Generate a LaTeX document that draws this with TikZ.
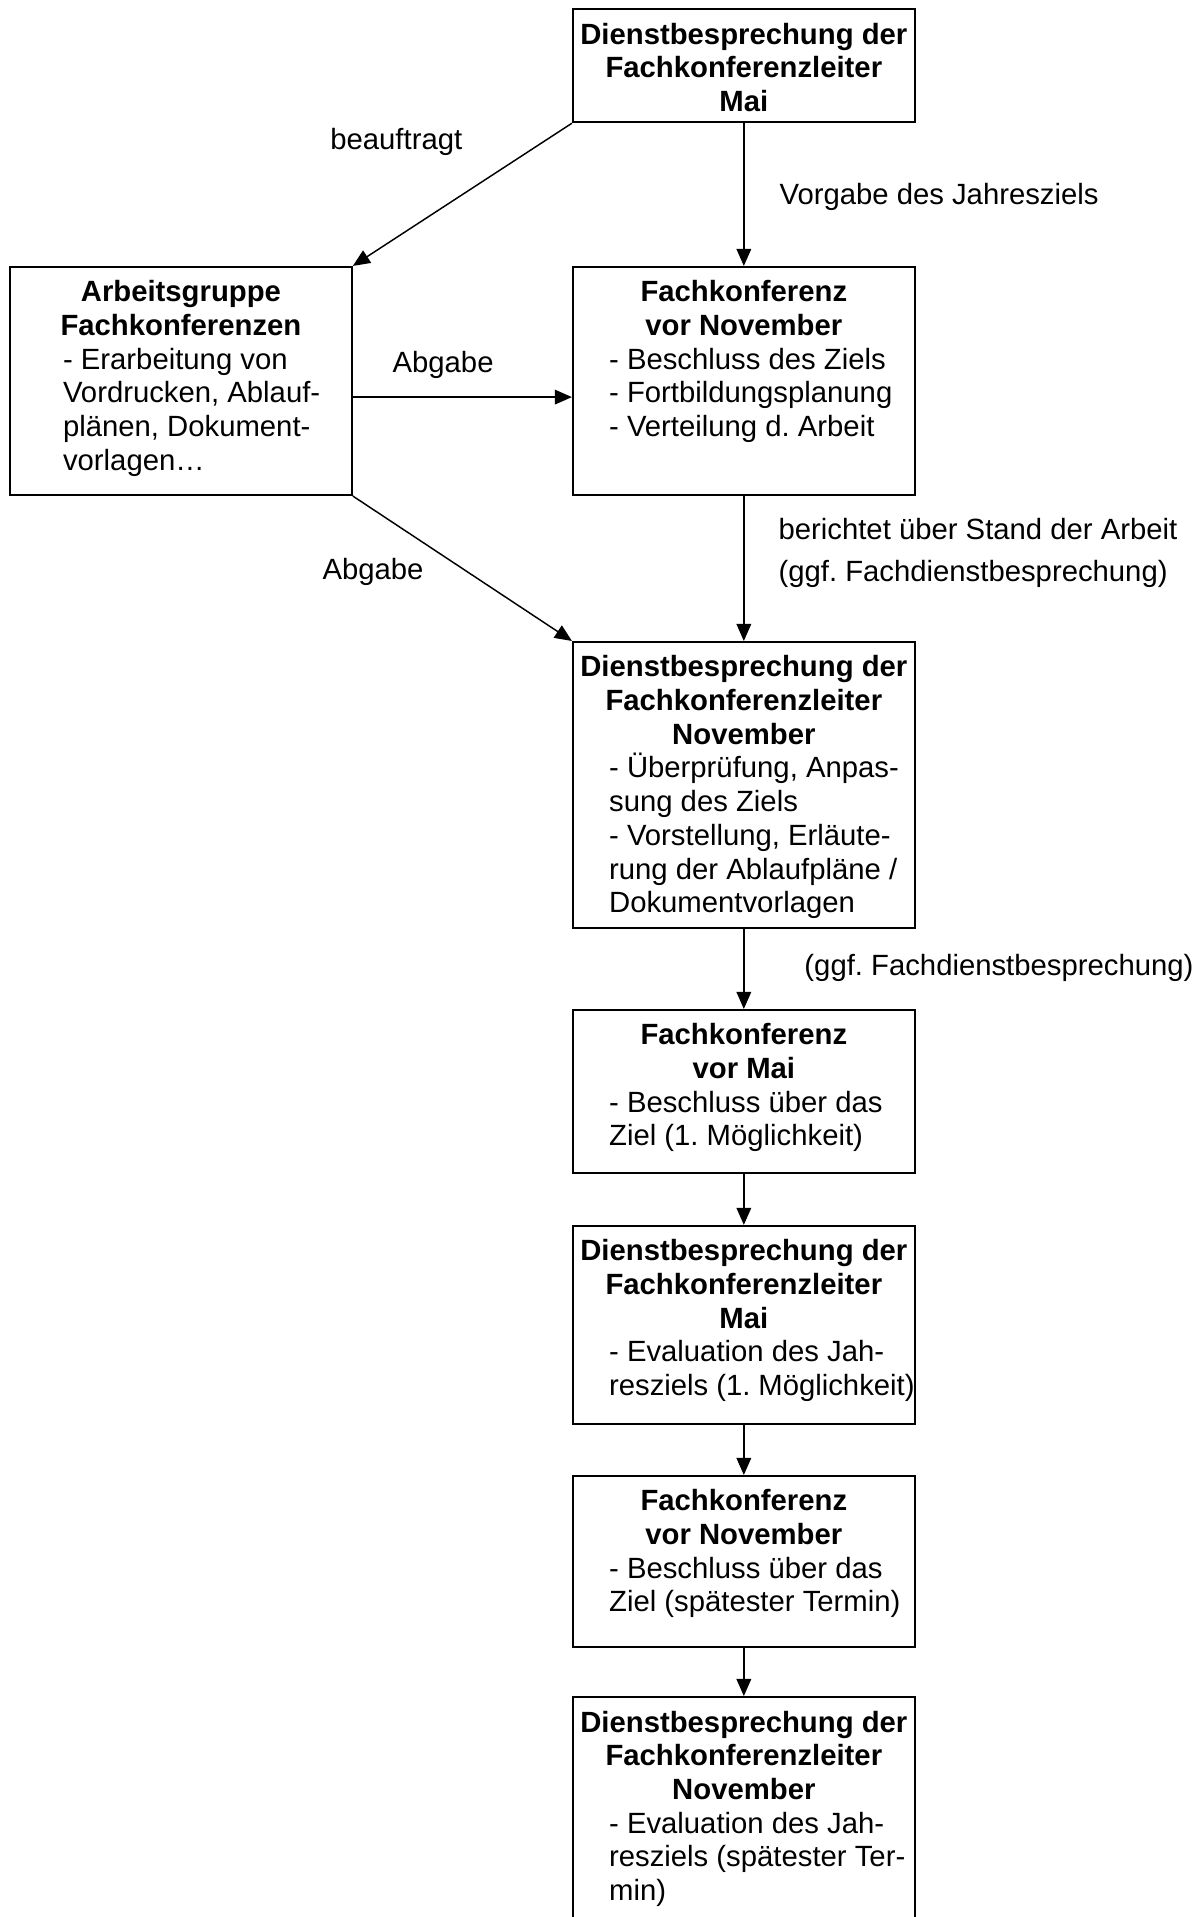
\documentclass[tikz,border=0pt]{standalone}
\usepackage{fontspec}
\setmainfont{Liberation Sans}
\usetikzlibrary{arrows.meta}

\newcommand{\kasten}[4]{\parbox[t][#1][t]{140pt}{\centering\bfseries\rule{0pt}{14.3pt}#3\par
  \raggedright\mdseries\leftskip=#2\relax #4\par}}

\tikzset{
  feld/.style={draw, line width=0.9pt, inner sep=0pt, anchor=north west},
  pfeil/.style={-{Triangle[width=6pt,length=7pt]}, line width=0.6pt},
  notiz/.style={anchor=base west, inner sep=0pt}
}

\begin{document}
\begin{tikzpicture}[x=1pt, y=-1pt, every node/.style={font=\fontsize{12}{13.8}\selectfont\frenchspacing}]
\useasboundingbox (0,0) rectangle (489.75,785.66);

\node[feld] (dbmai) at (234.4,3.3)
  {\kasten{46.3pt}{0pt}{Dienstbesprechung der\\Fachkonferenzleiter\\Mai}{}};
\node[feld] (agruppe) at (3.7,109)
  {\kasten{93.4pt}{21.7pt}{Arbeitsgruppe\\Fachkonferenzen}
   {- Erarbeitung von\\Vordrucken, Ablauf-\\plänen, Dokument-\\vorlagen…}};
\node[feld] (fknov) at (234.4,109)
  {\kasten{93.4pt}{14.8pt}{Fachkonferenz\\vor November}
   {- Beschluss des Ziels\\- Fortbildungsplanung\\- Verteilung d. Arbeit}};
\node[feld] (dbnov) at (234.4,262.7)
  {\kasten{117.2pt}{14.8pt}{Dienstbesprechung der\\Fachkonferenzleiter\\November}
   {- Überprüfung, Anpas-\\sung des Ziels\\- Vorstellung, Erläute-\\rung der Ablaufpläne /\\Dokumentvorlagen}};
\node[feld] (fkmai) at (234.4,413.5)
  {\kasten{66.8pt}{14.8pt}{Fachkonferenz\\vor Mai}
   {- Beschluss über das\\Ziel (1. Möglichkeit)}};
\node[feld] (dbmaizwei) at (234.4,502)
  {\kasten{81.1pt}{14.8pt}{Dienstbesprechung der\\Fachkonferenzleiter\\Mai}
   {- Evaluation des Jah-\\resziels (1. Möglichkeit)}};
\node[feld] (fknovzwei) at (234.4,604.5)
  {\kasten{70.1pt}{14.8pt}{Fachkonferenz\\vor November}
   {- Beschluss über das\\Ziel (spätester Termin)}};
\node[feld] (dbnovzwei) at (234.4,695.1)
  {\kasten{93pt}{14.8pt}{Dienstbesprechung der\\Fachkonferenzleiter\\November}
   {- Evaluation des Jah-\\resziels (spätester Ter-\\min)}};

\node[notiz] (beauftragt) at (135.2,61.1) {beauftragt};
\node[notiz] (vorgabe) at (319.3,84) {Vorgabe des Jahresziels};
\node[notiz] (abgabeeins) at (160.7,152.5) {Abgabe};
\node[notiz] (bericht) at (318.9,221.3) {berichtet über Stand der Arbeit};
\node[notiz] (ggfeins) at (318.9,238.5) {(ggf. Fachdienstbesprechung)};
\node[notiz] (abgabezwei) at (132,237.7) {Abgabe};
\node[notiz] (ggfzwei) at (329.5,399.6) {(ggf. Fachdienstbesprechung)};

\draw[pfeil] (dbmai.south west) -- (agruppe.north east);
\draw[pfeil] (dbmai.south) -- (fknov.north);
\draw[pfeil] ([yshift=-6.6pt]agruppe.east) -- ([yshift=-6.6pt]fknov.west);
\draw[pfeil] (agruppe.south east) -- (dbnov.north west);
\draw[pfeil] (fknov.south) -- (dbnov.north);
\draw[pfeil] (dbnov.south) -- (fkmai.north);
\draw[pfeil] (fkmai.south) -- (dbmaizwei.north);
\draw[pfeil] (dbmaizwei.south) -- (fknovzwei.north);
\draw[pfeil] (fknovzwei.south) -- (dbnovzwei.north);
\end{tikzpicture}
\end{document}
